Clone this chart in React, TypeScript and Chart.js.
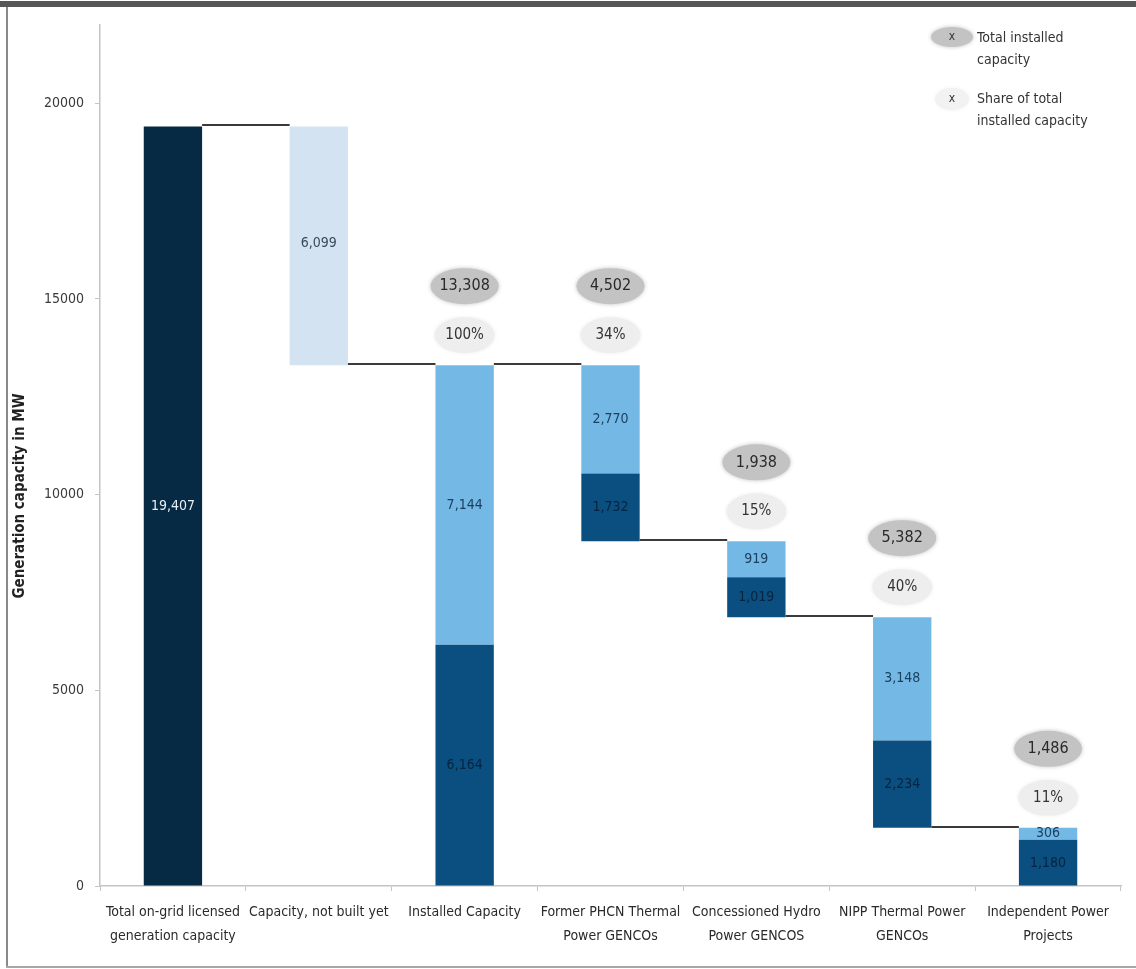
import { useEffect, useRef } from 'react';
import { Chart, registerables } from 'chart.js';

Chart.register(...registerables);

// ---------- data ----------
const categories: string[][] = [
  ['Total on-grid licensed', 'generation capacity'],
  ['Capacity, not built yet'],
  ['Installed Capacity'],
  ['Former PHCN Thermal', 'Power GENCOs'],
  ['Concessioned Hydro', 'Power GENCOS'],
  ['NIPP Thermal Power', 'GENCOs'],
  ['Independent Power', 'Projects'],
];
const licensedTotal = 19407;
const notBuiltYet = 6099;
// installed capacity and its four groups (installed, PHCN, hydro, NIPP, IPP)
const darkParts = [6164, 1732, 1019, 2234, 1180];
const lightParts = [7144, 2770, 919, 3148, 306];
const groupTotals = [13308, 4502, 1938, 5382, 1486];
const groupShares = ['100%', '34%', '15%', '40%', '11%'];
const yTicks = [0, 5000, 10000, 15000, 20000];
const yMax = 22000;

const FONT = '"Liberation Sans Narrow", "DejaVu Sans Condensed", Lato, sans-serif';
const C_LICENSED = '#062a43';
const C_NOTBUILT = '#d4e3f1';
const C_DARK = '#0a4f80';
const C_LIGHT = '#74b8e6';

const fmt = (v: number) => v.toLocaleString('en-US');

// floating ranges for each group bar (index 2..6)
const groupBases: number[] = [];
{
  let top = groupTotals[0];
  groupBases.push(0);
  for (let k = 1; k < groupTotals.length; k++) {
    const base = top - groupTotals[k];
    groupBases.push(base);
    top = base;
  }
}
const installed = groupTotals[0];

const licensedData: any[] = [[0, licensedTotal], null, null, null, null, null, null];
const notBuiltData: any[] = [null, [licensedTotal - notBuiltYet, licensedTotal], null, null, null, null, null];
const darkData: any[] = [null, null, ...groupBases.map((b, k) => [b, b + darkParts[k]])];
const lightData: any[] = [null, null, ...groupBases.map((b, k) => [b + darkParts[k], b + darkParts[k] + lightParts[k]])];

function ellipse(ctx: CanvasRenderingContext2D, cx: number, cy: number, rx: number, ry: number, color: string) {
  ctx.save();
  ctx.fillStyle = color;
  ctx.shadowColor = color;
  ctx.shadowBlur = 4;
  ctx.beginPath();
  ctx.ellipse(cx, cy, rx, ry, 0, 0, Math.PI * 2);
  ctx.fill();
  ctx.restore();
}

const overlayPlugin = {
  id: 'overlay',
  afterDatasetsDraw(chart: any) {
    const ctx: CanvasRenderingContext2D = chart.ctx;
    const y = chart.scales.y;
    const metaLic = chart.getDatasetMeta(0);
    const metaNB = chart.getDatasetMeta(1);
    const metaDark = chart.getDatasetMeta(2);
    const metaLight = chart.getDatasetMeta(3);

    const barOf = (i: number) => {
      if (i === 0) return metaLic.data[0];
      if (i === 1) return metaNB.data[1];
      return metaDark.data[i];
    };

    // connector lines
    const levels = [licensedTotal, licensedTotal - notBuiltYet, installed, ...groupBases.slice(1, 4)];
    ctx.save();
    ctx.strokeStyle = '#3a3a3a';
    ctx.lineWidth = 2;
    for (let i = 0; i < 6; i++) {
      const a = barOf(i);
      const b = barOf(i + 1);
      const py = Math.round(y.getPixelForValue(levels[i])) - 1;
      ctx.beginPath();
      ctx.moveTo(a.x + a.width / 2, py);
      ctx.lineTo(b.x - b.width / 2, py);
      ctx.stroke();
    }
    ctx.restore();

    // value labels in bars
    ctx.save();
    ctx.textAlign = 'center';
    ctx.textBaseline = 'middle';
    ctx.font = `14px ${FONT}`;
    const mid = (r: number[]) => y.getPixelForValue((r[0] + r[1]) / 2);
    ctx.fillStyle = '#e6edf4';
    ctx.fillText(fmt(licensedTotal), metaLic.data[0].x, mid(licensedData[0]));
    ctx.fillStyle = '#3a4a5a';
    ctx.fillText(fmt(notBuiltYet), metaNB.data[1].x, mid(notBuiltData[1]) - 2);
    for (let k = 0; k < groupTotals.length; k++) {
      const i = k + 2;
      ctx.fillStyle = '#062440';
      ctx.fillText(fmt(darkParts[k]), metaDark.data[i].x, mid(darkData[i]));
      ctx.fillStyle = '#1d3f60';
      ctx.fillText(fmt(lightParts[k]), metaLight.data[i].x, mid(lightData[i]));
    }
    ctx.restore();

    // total & share ellipses
    ctx.save();
    ctx.textAlign = 'center';
    ctx.textBaseline = 'middle';
    for (let k = 0; k < groupTotals.length; k++) {
      const i = k + 2;
      const cx = metaLight.data[i].x;
      const topPx = y.getPixelForValue(groupBases[k] + groupTotals[k]);
      ellipse(ctx, cx, topPx - 79, 34, 18, '#c3c3c3');
      ellipse(ctx, cx, topPx - 30, 30, 18, '#eeeeee');
      ctx.fillStyle = '#2a2a2a';
      ctx.font = `16px ${FONT}`;
      ctx.fillText(fmt(groupTotals[k]), cx, topPx - 79);
      ctx.fillStyle = '#333';
      ctx.font = `15px ${FONT}`;
      ctx.fillText(groupShares[k], cx, topPx - 30);
    }
    ctx.restore();

    // legend
    ctx.save();
    ellipse(ctx, 952, 37, 21, 10, '#c3c3c3');
    ellipse(ctx, 952, 99, 17, 11, '#f2f2f2');
    ctx.textAlign = 'center';
    ctx.textBaseline = 'middle';
    ctx.fillStyle = '#333';
    ctx.font = `12px ${FONT}`;
    ctx.fillText('x', 952, 37);
    ctx.fillText('x', 952, 99);
    ctx.textAlign = 'left';
    ctx.font = `14px ${FONT}`;
    ctx.fillStyle = '#333';
    ctx.fillText('Total installed', 977, 38);
    ctx.fillText('capacity', 977, 60);
    ctx.fillText('Share of total', 977, 99);
    ctx.fillText('installed capacity', 977, 121);
    ctx.restore();

    // y title
    ctx.save();
    ctx.translate(20, 496);
    ctx.rotate(-Math.PI / 2);
    ctx.textAlign = 'center';
    ctx.textBaseline = 'middle';
    ctx.fillStyle = '#222';
    ctx.font = `bold 15px ${FONT}`;
    ctx.fillText('Generation capacity in MW', 0, 0);
    ctx.restore();

    // frame
    ctx.save();
    ctx.fillStyle = '#575757';
    ctx.fillRect(0, 1, chart.width, 6);
    ctx.fillStyle = '#8a8a8a';
    ctx.fillRect(6, 7, 2, chart.height - 9);
    ctx.fillStyle = '#a8a8a8';
    ctx.fillRect(6, chart.height - 3, chart.width, 2);
    ctx.restore();
  },
};

export default function App() {
  const ref = useRef<HTMLCanvasElement | null>(null);
  useEffect(() => {
    document.body.style.margin = '0';
    const canvas = ref.current;
    if (!canvas) return;
    const common = { grouped: false, barPercentage: 0.4, categoryPercentage: 1, maxBarThickness: 59, borderWidth: 0 };
    const chart = new Chart(canvas, {
      type: 'bar',
      data: {
        labels: categories as any,
        datasets: [
          { label: 'Licensed', data: licensedData, backgroundColor: C_LICENSED, ...common },
          { label: 'Not built', data: notBuiltData, backgroundColor: C_NOTBUILT, ...common },
          { label: 'Dark', data: darkData, backgroundColor: C_DARK, ...common },
          { label: 'Light', data: lightData, backgroundColor: C_LIGHT, ...common },
        ] as any,
      },
      options: {
        animation: false,
        responsive: false,
        maintainAspectRatio: false,
        layout: { padding: { top: 25, right: 15, bottom: 0, left: 0 } },
        plugins: { legend: { display: false }, tooltip: { enabled: false }, title: { display: false } },
        scales: {
          x: {
            grid: { drawOnChartArea: false, drawTicks: true, tickLength: 5, color: '#c4c4c4', offset: true },
            border: { color: '#c4c4c4', width: 1.5 },
            ticks: {
              color: '#2a2a2a',
              font: { family: FONT, size: 14, lineHeight: 1.75 },
              padding: 9,
              maxRotation: 0,
              autoSkip: false,
            },
            afterFit: (s: any) => {
              s.height = 83;
              s.paddingLeft = 0;
              s.paddingRight = 0;
            },
          },
          y: {
            min: 0,
            max: yMax,
            grid: { drawOnChartArea: false, drawTicks: true, tickLength: 5, color: '#c4c4c4' },
            border: { color: '#c4c4c4', width: 1.5 },
            afterBuildTicks: (s: any) => {
              s.ticks = yTicks.map((v) => ({ value: v }));
            },
            ticks: {
              color: '#3a3a3a',
              font: { family: FONT, size: 14 },
              padding: 11,
              callback: (v: any) => String(v),
            },
            afterFit: (s: any) => {
              s.width = 100;
              s.paddingTop = 0;
              s.paddingBottom = 0;
            },
          },
        },
      } as any,
      plugins: [overlayPlugin],
    });
    return () => chart.destroy();
  }, []);
  return (
    <div style={{ width: 1136, height: 969, background: '#fff' }}>
      <canvas ref={ref} width={1136} height={969} style={{ display: 'block', width: 1136, height: 969 }} />
    </div>
  );
}
